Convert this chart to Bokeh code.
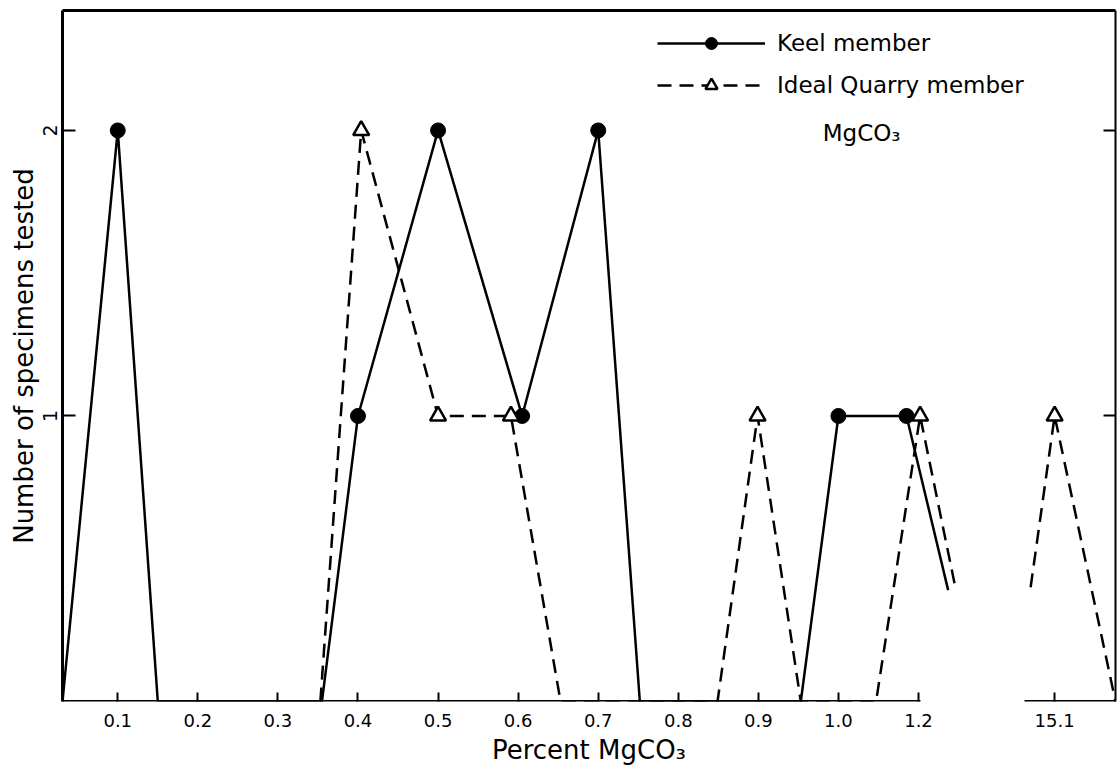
import math
from bokeh.plotting import figure
from bokeh.models import (LinearAxis, FixedTicker, Range1d, Legend, LegendItem,
                          Label)
from bokeh.embed import file_html
from bokeh.resources import INLINE

NaN = float("nan")

# Positions on the drawn (broken) x axis: the slot after 1.0 carries the label "1.2",
# and the separate segment beyond the break carries "15.1".
tick_pos = [0.1, 0.2, 0.3, 0.4, 0.5, 0.6, 0.7, 0.8, 0.9, 1.0, 1.1, 1.27]
tick_labels = ["0.1", "0.2", "0.3", "0.4", "0.5", "0.6", "0.7", "0.8", "0.9", "1.0", "1.2", "15.1"]
y_ticks = [1, 2]

# Keel member (solid line, circles)
keel_pts_x = [0.1, 0.4, 0.5, 0.605, 0.7, 1.0, 1.085]
keel_pts_y = [2, 1, 2, 1, 2, 1, 1]
keel_line_x = [0.031, 0.1, 0.15, 0.355, 0.4, 0.5, 0.605, 0.7, 0.752, 0.953, 1.0, 1.085, 1.137]
keel_line_y = [0, 2, 0, 0, 1, 2, 1, 2, 0, 0, 1, 1, 0.39]

# Ideal Quarry member (dashed line, triangles)
quarry_pts_x = [0.404, 0.5, 0.591, 0.899, 1.102, 1.27]
quarry_pts_y = [2, 1, 1, 1, 1, 1]
quarry_line_x = [0.353, 0.404, 0.5, 0.591, 0.653, 0.849, 0.899, 0.953, 1.047, 1.102, 1.146, NaN, 1.24, 1.27, 1.346]
quarry_line_y = [0, 2, 1, 1, 0, 0, 1, 0, 0, 1, 0.40, NaN, 0.40, 1, 0]

X_START, X_END = 0.031, 1.346
BREAK_L, BREAK_R = 1.103, 1.232
Y_START, Y_END = 0, 2.42

FONT = "DejaVu Sans"

p = figure(frame_width=1053, frame_height=691,
           x_range=Range1d(X_START, X_END), y_range=Range1d(Y_START, Y_END),
           x_axis_type=None, y_axis_type=None,
           output_backend="svg", toolbar_location=None,
           min_border_left=62, min_border_right=2, min_border_top=10, min_border_bottom=4)
p.outline_line_color = None
p.background_fill_color = "white"
p.border_fill_color = "white"

def style_axis(ax, width):
    ax.axis_line_width = width
    ax.axis_line_color = "black"
    ax.major_tick_line_width = 2
    ax.major_tick_line_color = "black"
    ax.minor_tick_line_color = None
    ax.major_tick_out = 0
    ax.major_label_text_font = FONT
    ax.major_label_text_color = "black"
    ax.axis_label_text_font = FONT
    ax.axis_label_text_font_style = "normal"
    ax.axis_label_text_color = "black"

def hide_labels(ax):
    ax.major_label_text_color = None
    ax.major_label_text_font_size = "1px"
    ax.major_label_standoff = 0

# left axis
ly = LinearAxis(ticker=FixedTicker(ticks=y_ticks), axis_label="Number of specimens tested")
style_axis(ly, 3)
ly.major_tick_in = 13
ly.major_label_orientation = "vertical"
ly.major_label_text_font_size = "19px"
ly.major_label_standoff = 5
ly.axis_label_text_font_size = "26px"
ly.axis_label_standoff = 2
p.add_layout(ly, "left")

# right border with inward ticks
ry = LinearAxis(ticker=FixedTicker(ticks=y_ticks))
style_axis(ry, 2)
ry.major_tick_in = 12
hide_labels(ry)
p.add_layout(ry, "right")

# top border
tx = LinearAxis(ticker=FixedTicker(ticks=[0.5]))
style_axis(tx, 3)
tx.major_tick_in = 0
tx.major_tick_line_color = None
hide_labels(tx)
p.add_layout(tx, "above")

# bottom axis: ticks and labels (line drawn in two pieces below)
bx = LinearAxis(ticker=FixedTicker(ticks=tick_pos),
                major_label_overrides=dict(zip(tick_pos, tick_labels)),
                axis_label="Percent MgCO\u2083")
style_axis(bx, 3)
bx.axis_line_color = None
bx.major_tick_in = 9
bx.major_label_text_font_size = "18px"
bx.major_label_standoff = 12
bx.axis_label_text_font_size = "26px"
bx.axis_label_standoff = 5
p.add_layout(bx, "below")

# the two pieces of the broken bottom axis line
for lo, hi in [(X_START, BREAK_L), (BREAK_R, X_END)]:
    seg = LinearAxis(ticker=FixedTicker(ticks=[(lo + hi) / 2]), bounds=(lo, hi),
                     fixed_location=Y_START)
    style_axis(seg, 3)
    seg.major_tick_in = 0
    seg.major_tick_line_color = None
    hide_labels(seg)
    p.add_layout(seg, "below")

keel_line = p.line(keel_line_x, keel_line_y, line_color="black", line_width=2.5)
keel_sc = p.scatter(keel_pts_x, keel_pts_y, marker="circle", size=15,
                    fill_color="black", line_color="black")
q_line = p.line(quarry_line_x, quarry_line_y, line_color="black", line_width=2.5,
                line_dash="14 8")
q_sc = p.scatter(quarry_pts_x, quarry_pts_y, marker="triangle", size=16,
                 fill_color="white", line_color="black", line_width=2.5)

legend = Legend(items=[LegendItem(label="Keel member", renderers=[keel_line, keel_sc]),
                       LegendItem(label="Ideal Quarry member", renderers=[q_line, q_sc])],
                location=(595, 601), glyph_width=108, glyph_height=30, label_height=30,
                spacing=12, padding=0, margin=0, label_standoff=12,
                border_line_color=None, background_fill_alpha=0,
                label_text_font=FONT, label_text_font_size="23px",
                label_text_color="black")
p.add_layout(legend)

p.add_layout(Label(x=1.029, y=1.99, text="MgCO\u2083", text_align="center",
                   text_baseline="alphabetic", text_font=FONT, text_font_size="23px",
                   text_color="black"))

open("out.html", "w").write(file_html(p, INLINE))
